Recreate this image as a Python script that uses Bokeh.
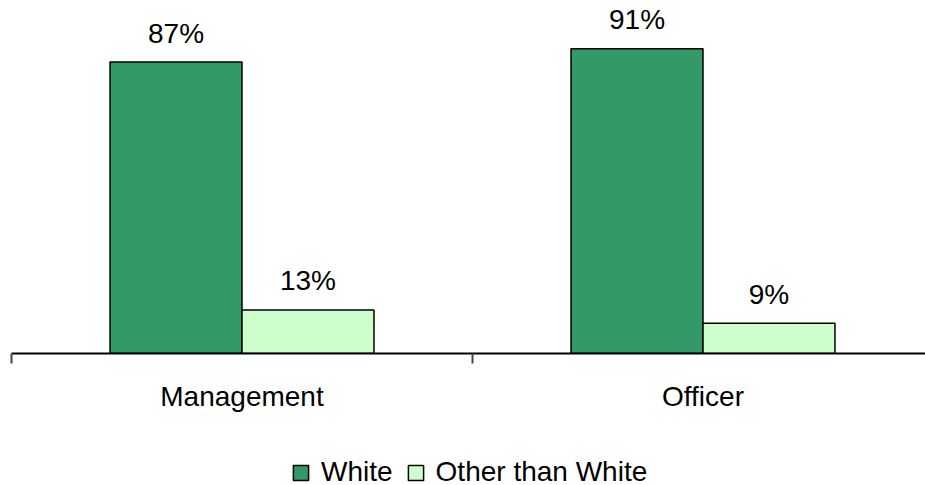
from bokeh.plotting import figure
from bokeh.layouts import column
from bokeh.models import Range1d, FixedTicker, Legend, LegendItem, ColumnDataSource
from bokeh.core.properties import value
from bokeh.embed import file_html
from bokeh.resources import INLINE

categories = ["Management", "Officer"]
series = ["White", "Other than White"]
white = [87, 91]
other = [13, 9]
colors = ["#339966", "#CCFFCC"]

FONT = "Liberation Sans"
n = len(categories)
centers = [i + 0.5 for i in range(n)]
bar_w = 0.2863

white_src = ColumnDataSource(dict(x=[c - bar_w / 2 for c in centers], top=white,
                                  label=[f"{v}%" for v in white]))
other_src = ColumnDataSource(dict(x=[c + bar_w / 2 for c in centers], top=other,
                                  label=[f"{v}%" for v in other]))

p = figure(width=925, height=414, output_backend="svg", toolbar_location=None,
           x_range=Range1d(0, 914 / 461), y_range=Range1d(0, 105.4),
           y_axis_location=None, min_border_left=11, min_border_right=0,
           min_border_top=0, min_border_bottom=0)
p.outline_line_color = None
p.xgrid.visible = False
p.ygrid.visible = False
p.background_fill_color = "white"
p.border_fill_color = "white"

r1 = p.vbar(x="x", top="top", width=bar_w, bottom=0, source=white_src,
            fill_color=colors[0], line_color="black", line_width=1.5)
r2 = p.vbar(x="x", top="top", width=bar_w, bottom=0, source=other_src,
            fill_color=colors[1], line_color="black", line_width=1.5)

for src in (white_src, other_src):
    p.text(x="x", y="top", text="label", source=src, text_align="center",
           text_baseline="alphabetic", y_offset=-29, text_font=value(FONT),
           text_font_size="28px", text_color="black")

ax = p.xaxis[0]
ax.ticker = FixedTicker(ticks=centers, minor_ticks=[float(i) for i in range(n + 1)])
ax.major_label_overrides = {c: cat for c, cat in zip(centers, categories)}
ax.major_tick_out = 0
ax.major_tick_in = 0
ax.minor_tick_out = 10
ax.minor_tick_in = 0
ax.minor_tick_line_color = "#444444"
ax.minor_tick_line_width = 2
ax.axis_line_color = "black"
ax.axis_line_width = 2
ax.major_label_standoff = 17
ax.major_label_text_font = FONT
ax.major_label_text_font_size = "28px"
ax.major_label_text_color = "black"

# legend strip below the chart
pl = figure(width=925, height=71, output_backend="svg", toolbar_location=None,
            x_range=Range1d(0, 1), y_range=Range1d(0, 1),
            x_axis_location=None, y_axis_location=None,
            min_border_left=0, min_border_right=0, min_border_top=0,
            min_border_bottom=0)
pl.outline_line_color = None
pl.xgrid.visible = False
pl.ygrid.visible = False
pl.background_fill_color = "white"
pl.border_fill_color = "white"

# swatch renderers: one (off-range) bar each so the legend can draw its glyph
legend_renderers = [
    pl.vbar(x="x", top="top", width=0.1,
            source=ColumnDataSource(dict(x=[5.0], top=[0.0])),
            fill_color=c, line_color="black", line_width=1.5)
    for c in colors
]

legend = Legend(items=[LegendItem(label=s, renderers=[r], index=0)
                       for s, r in zip(series, legend_renderers)],
                orientation="horizontal", location=(280, -3),
                glyph_width=19, glyph_height=19, label_standoff=11, spacing=13,
                padding=0, margin=0, border_line_color=None,
                background_fill_alpha=0, label_text_font=FONT,
                label_text_font_size="28px", label_text_color="black")
pl.add_layout(legend)

layout = column(p, pl, spacing=0)
open("out.html", "w").write(file_html(layout, INLINE))
